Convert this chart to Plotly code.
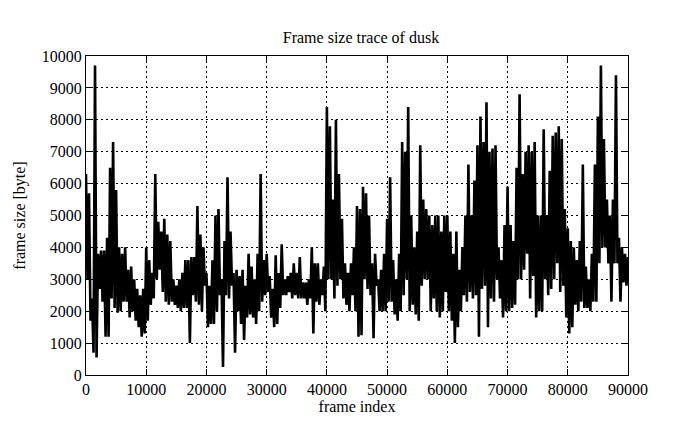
import numpy as np
import plotly.graph_objects as go

# frames per sample group
frame_step = 500

# local peak frame sizes [byte] for successive groups of 500 frames
peak_values = [
    6300, 5700, 2400, 9700, 3800, 3900, 3900, 4300, 6500, 7300,
    5800, 4000, 3800, 4000, 3300, 3400, 3000, 2700, 2500, 2700,
    4000, 3600, 3200, 6300, 4800, 4500, 4900, 4400, 4200, 3000,
    2800, 3000, 3200, 3600, 3600, 3700, 3700, 5300, 4400, 4000,
    3200, 2800, 3600, 5000, 5200, 3000, 4200, 6200, 4500, 3200,
    3300, 3100, 3300, 2800, 3800, 3400, 3000, 3800, 6300, 3600,
    3800, 3100, 2700, 3750, 3200, 4100, 3000, 3100, 3200, 3500,
    3200, 3700, 2900, 2900, 3000, 4000, 3500, 3500, 3000, 3400,
    8400, 7800, 5500, 8000, 6300, 4900, 3500, 3200, 3500, 4000,
    5300, 5200, 5900, 5700, 5000, 3500, 3800, 3000, 3300, 3800,
    4900, 6200, 3600, 3000, 3800, 7300, 7000, 8400, 5000, 4000,
    4500, 7200, 5500, 5200, 5000, 4700, 5000, 5000, 4500, 5000,
    5000, 4500, 3800, 4500, 3300, 4000, 5000, 6600, 5000, 6100,
    7200, 8100, 7300, 8550, 7000, 7100, 7200, 4000, 3600, 4700,
    5900, 4700, 4200, 6500, 8800, 6300, 7000, 7200, 7000, 7300,
    5000, 5000, 7700, 5000, 6400, 7500, 7600, 7800, 7400, 5200,
    4600, 4200, 4000, 3600, 4200, 6600, 3400, 3000, 3800, 6600,
    8100, 9700, 7400, 5500, 5000, 5500, 9400, 4300, 4000, 3800,
    3700,
]

# local trough frame sizes [byte] for the same groups
trough_values = [
    3000, 1700, 700, 550, 2700, 2300, 1200, 1200, 2400, 2100,
    1950, 2000, 2300, 2300, 1800, 2000, 1700, 1500, 1200, 1300,
    1700, 2200, 2400, 3000, 3300, 2600, 2300, 2200, 2300, 2200,
    2100, 2000, 2100, 2100, 1000, 2500, 2300, 2200, 2000, 2800,
    1500, 1600, 1600, 2000, 2500, 250, 2500, 2400, 2800, 700,
    2000, 1600, 1100, 1800, 1900, 1800, 1600, 2000, 2300, 2500,
    2600, 1800, 1500, 1600, 2100, 2500, 2500, 2600, 2400, 2500,
    2400, 2400, 2400, 2200, 2400, 1300, 2300, 2200, 2500, 2000,
    3000, 3000, 2400, 2800, 3000, 2400, 2200, 2000, 2500, 2000,
    1200, 1250, 3000, 2700, 2500, 1150, 2800, 2000, 2000, 2000,
    2300, 2300, 1900, 1700, 2000, 2500, 3000, 2000, 2200, 1900,
    1700, 2800, 3000, 3000, 2000, 2400, 2000, 1800, 2000, 2600,
    2000, 1700, 1000, 1500, 2000, 2500, 2300, 2600, 2400, 2500,
    1200, 2700, 2800, 1500, 2400, 2300, 3000, 2400, 1800, 2000,
    2000, 2100, 2200, 3000, 3000, 3300, 3800, 2400, 3100, 1800,
    2000, 2000, 3000, 2500, 2700, 3000, 3500, 2600, 2800, 1800,
    1300, 1500, 2200, 2000, 2300, 2100, 2100, 2000, 2300, 2300,
    3500, 4000, 4000, 3500, 2300, 3500, 3500, 2300, 2900, 2800,
    2900,
]

x_ticks = [0, 10000, 20000, 30000, 40000, 50000, 60000, 70000, 80000, 90000]
y_ticks = [0, 1000, 2000, 3000, 4000, 5000, 6000, 7000, 8000, 9000, 10000]

n = len(peak_values)
frames = np.empty(2 * n)
sizes = np.empty(2 * n)
frames[0::2] = np.arange(n) * frame_step
frames[1::2] = np.arange(n) * frame_step + frame_step / 2
sizes[0::2] = peak_values
sizes[1::2] = trough_values

font_family = "Liberation Serif, Times New Roman, serif"

fig = go.Figure()
fig.add_trace(go.Scatter(
    x=frames, y=sizes, mode="lines",
    line=dict(color="black", width=2.6),
    showlegend=False,
))

axis_common = dict(
    showline=True, linecolor="black", linewidth=1, mirror="ticks",
    ticks="inside", ticklen=6, tickcolor="black", tickwidth=1,
    showgrid=True, gridcolor="black", gridwidth=1, griddash="2px,3px",
    zeroline=False,
    tickfont=dict(family=font_family, size=16, color="black"),
)

# the page body adds an 8px margin, so the figure is sized to fit inside it
fig.update_layout(
    width=687, height=421,
    margin=dict(l=78, r=67, t=48, b=54),
    paper_bgcolor="white", plot_bgcolor="white",
    font=dict(family=font_family, color="black"),
    title=dict(text="Frame size trace of dusk", x=0.5138, xanchor="center",
               y=0.93, yanchor="middle",
               font=dict(family=font_family, size=16, color="black")),
    xaxis=dict(range=[0, 90000], tickvals=x_ticks,
               ticktext=[str(v) for v in x_ticks],
               title=dict(text="frame index", standoff=2,
                          font=dict(family=font_family, size=16)),
               **axis_common),
    yaxis=dict(range=[0, 10000], tickvals=y_ticks,
               ticktext=[str(v) for v in y_ticks],
               title=dict(text="frame size [byte]", standoff=12,
                          font=dict(family=font_family, size=16)),
               **axis_common),
)

fig.write_html("out.html")
